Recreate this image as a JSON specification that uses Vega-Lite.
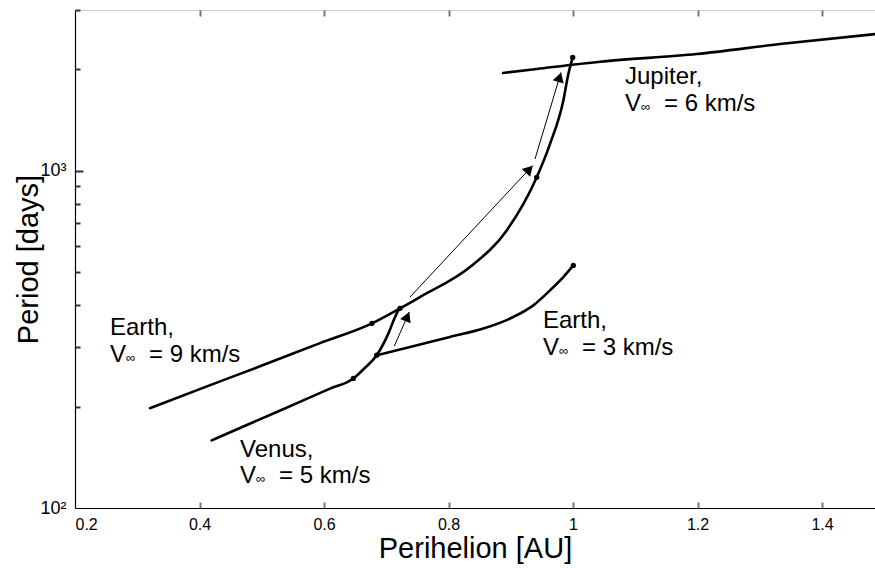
{
  "$schema": "https://vega.github.io/schema/vega-lite/v6.json",
  "width": 800,
  "height": 498,
  "autosize": {"type": "none"},
  "padding": {"left": 75, "top": 10, "right": 0, "bottom": 60},
  "background": "white",
  "config": {
    "view": {"stroke": "#cccccc", "strokeWidth": 1},
    "font": "Liberation Sans",
    "axis": {
      "labelFont": "Liberation Sans",
      "titleFont": "Liberation Sans",
      "labelFontSize": 16,
      "titleFontSize": 29,
      "titleFontWeight": "normal",
      "labelColor": "black",
      "titleColor": "black",
      "domainColor": "black",
      "domainWidth": 1.2,
      "grid": false
    }
  },
  "datasets": {
    "curves": [
      {"curve": "Earth 9", "i": 1, "perihelion": 0.3205, "period": 197.8},
      {"curve": "Earth 9", "i": 2, "perihelion": 0.4088, "period": 228.3},
      {"curve": "Earth 9", "i": 3, "perihelion": 0.4972, "period": 263.3},
      {"curve": "Earth 9", "i": 4, "perihelion": 0.5936, "period": 308.3},
      {"curve": "Earth 9", "i": 5, "perihelion": 0.6771, "period": 353.0},
      {"curve": "Earth 9", "i": 6, "perihelion": 0.7221, "period": 391.0},
      {"curve": "Earth 9", "i": 7, "perihelion": 0.7542, "period": 422.5},
      {"curve": "Earth 9", "i": 8, "perihelion": 0.8345, "period": 518.2},
      {"curve": "Earth 9", "i": 9, "perihelion": 0.8935, "period": 665.7},
      {"curve": "Earth 9", "i": 10, "perihelion": 0.9417, "period": 957},
      {"curve": "Earth 9", "i": 11, "perihelion": 0.9631, "period": 1202},
      {"curve": "Earth 9", "i": 12, "perihelion": 0.9844, "period": 1615},
      {"curve": "Earth 9", "i": 13, "perihelion": 0.9925, "period": 1937},
      {"curve": "Earth 9", "i": 14, "perihelion": 0.9995, "period": 2170},
      {"curve": "Venus 5", "i": 1, "perihelion": 0.4196, "period": 158.7},
      {"curve": "Venus 5", "i": 2, "perihelion": 0.5325, "period": 195.7},
      {"curve": "Venus 5", "i": 3, "perihelion": 0.6096, "period": 225.9},
      {"curve": "Venus 5", "i": 4, "perihelion": 0.6471, "period": 242.2},
      {"curve": "Venus 5", "i": 5, "perihelion": 0.6659, "period": 260.6},
      {"curve": "Venus 5", "i": 6, "perihelion": 0.6847, "period": 283.9},
      {"curve": "Venus 5", "i": 7, "perihelion": 0.7033, "period": 329.0},
      {"curve": "Venus 5", "i": 8, "perihelion": 0.7141, "period": 368.6},
      {"curve": "Venus 5", "i": 9, "perihelion": 0.7210, "period": 391.0},
      {"curve": "Earth 3", "i": 1, "perihelion": 0.6847, "period": 283.9},
      {"curve": "Earth 3", "i": 2, "perihelion": 0.7382, "period": 300.3},
      {"curve": "Earth 3", "i": 3, "perihelion": 0.8024, "period": 321.6},
      {"curve": "Earth 3", "i": 4, "perihelion": 0.8559, "period": 340.5},
      {"curve": "Earth 3", "i": 5, "perihelion": 0.9041, "period": 368.6},
      {"curve": "Earth 3", "i": 6, "perihelion": 0.9362, "period": 399.1},
      {"curve": "Earth 3", "i": 7, "perihelion": 0.9630, "period": 442.1},
      {"curve": "Earth 3", "i": 8, "perihelion": 0.9844, "period": 484.1},
      {"curve": "Earth 3", "i": 9, "perihelion": 1.0005, "period": 524.3},
      {"curve": "Jupiter 6", "i": 1, "perihelion": 0.8876, "period": 1951},
      {"curve": "Jupiter 6", "i": 2, "perihelion": 0.9417, "period": 2005},
      {"curve": "Jupiter 6", "i": 3, "perihelion": 1.0434, "period": 2107},
      {"curve": "Jupiter 6", "i": 4, "perihelion": 1.1987, "period": 2221},
      {"curve": "Jupiter 6", "i": 5, "perihelion": 1.3325, "period": 2377},
      {"curve": "Jupiter 6", "i": 6, "perihelion": 1.4851, "period": 2545}
    ],
    "arrows": [
      {"leg": "a", "p0": 0.713, "t0": 302.4, "p1": 0.737, "t1": 381.4, "hp": 0.7338, "ht": 369.6, "heading": 23},
      {"leg": "b", "p0": 0.7382, "t0": 422.5, "p1": 0.9353, "t1": 1037, "hp": 0.9298, "ht": 1011, "heading": 43},
      {"leg": "c", "p0": 0.939, "t0": 1085, "p1": 0.9807, "t1": 1959, "hp": 0.9785, "ht": 1896, "heading": 17}
    ],
    "dots": [
      {"perihelion": 0.6771, "period": 353.0},
      {"perihelion": 0.7221, "period": 391.0},
      {"perihelion": 0.6471, "period": 242.2},
      {"perihelion": 0.6847, "period": 283.9},
      {"perihelion": 0.9417, "period": 957},
      {"perihelion": 0.9995, "period": 2170},
      {"perihelion": 1.0005, "period": 524.3}
    ],
    "names": [
      {"perihelion": 0.2562, "period": 325.3, "name": "Earth,"},
      {"perihelion": 0.4651, "period": 141.9, "name": "Venus,"},
      {"perihelion": 0.9518, "period": 341.2, "name": "Earth,"},
      {"perihelion": 1.0835, "period": 1814, "name": "Jupiter,"}
    ],
    "speeds": [
      {"perihelion": 0.2562, "period": 271.2, "speed": "= 9 km/s"},
      {"perihelion": 0.4651, "period": 118.6, "speed": "= 5 km/s"},
      {"perihelion": 0.9518, "period": 283.9, "speed": "= 3 km/s"},
      {"perihelion": 1.0835, "period": 1509, "speed": "= 6 km/s"}
    ]
  },
  "resolve": {"axis": {"x": "independent", "y": "independent"}},
  "layer": [
    {
      "data": {"name": "curves"},
      "mark": {"type": "line", "color": "black", "strokeWidth": 2.6, "clip": true, "strokeCap": "round", "interpolate": "monotone"},
      "encoding": {
        "x": {
          "field": "perihelion", "type": "quantitative",
          "scale": {"domain": [0.2, 1.4851], "nice": false, "zero": false},
          "axis": {
            "orient": "bottom",
            "values": [0.2, 0.4, 0.6, 0.8, 1.0, 1.2, 1.4],
            "labelExpr": "format(datum.value, '~g')",
            "ticks": false,
            "labelPadding": 8,
            "title": "Perihelion [AU]",
            "titlePadding": 2
          }
        },
        "y": {
          "field": "period", "type": "quantitative",
          "scale": {"type": "log", "domain": [100, 3000], "nice": false},
          "axis": {
            "orient": "left",
            "values": [100, 1000],
            "labelExpr": "datum.value == 100 ? '10²' : '10³'",
            "labelFontSize": 18,
            "ticks": false,
            "labelPadding": 9,
            "title": "Period [days]",
            "titlePadding": -4
          }
        },
        "detail": {"field": "curve"},
        "order": {"field": "i"}
      }
    },
    {
      "data": {"name": "arrows"},
      "mark": {"type": "rule", "color": "black", "strokeWidth": 1},
      "encoding": {
        "x": {
          "field": "p0", "type": "quantitative",
          "axis": {
            "orient": "top",
            "values": [0.4, 0.6, 0.8, 1.0, 1.2, 1.4],
            "labels": false,
            "ticks": true,
            "title": null,
            "domain": false,
            "offset": -6,
            "tickSize": 6,
            "tickWidth": 2,
            "tickColor": "#777"
          }
        },
        "y": {"field": "t0", "type": "quantitative", "axis": null},
        "x2": {"field": "p1"},
        "y2": {"field": "t1"}
      }
    },
    {
      "data": {"name": "arrows"},
      "mark": {"type": "point", "shape": "triangle-up", "filled": true, "color": "black", "size": 130, "opacity": 1},
      "encoding": {
        "x": {
          "field": "hp", "type": "quantitative",
          "axis": {
            "orient": "bottom",
            "values": [0.4, 0.6, 0.8, 1.0, 1.2, 1.4],
            "labels": false,
            "ticks": true,
            "title": null,
            "domain": false,
            "offset": -6,
            "tickSize": 6,
            "tickWidth": 2,
            "tickColor": "#777"
          }
        },
        "y": {
          "field": "ht", "type": "quantitative",
          "axis": {
            "orient": "left",
            "values": [200, 300, 400, 500, 600, 700, 800, 900, 2000, 3000],
            "labels": false,
            "ticks": true,
            "title": null,
            "domain": false,
            "offset": -5,
            "tickSize": 5,
            "tickWidth": 2,
            "tickColor": "#333"
          }
        },
        "angle": {"field": "heading", "type": "quantitative", "scale": null}
      }
    },
    {
      "data": {"name": "dots"},
      "mark": {"type": "circle", "color": "black", "size": 28, "opacity": 1},
      "encoding": {
        "x": {"field": "perihelion", "type": "quantitative", "axis": null},
        "y": {
          "field": "period", "type": "quantitative",
          "axis": {
            "orient": "left",
            "values": [1000],
            "labels": false,
            "ticks": true,
            "title": null,
            "domain": false,
            "offset": -8,
            "tickSize": 8,
            "tickWidth": 2,
            "tickColor": "#333"
          }
        }
      }
    },
    {
      "data": {"name": "names"},
      "mark": {"type": "text", "align": "left", "baseline": "alphabetic", "font": "Liberation Sans", "fontSize": 24, "color": "black"},
      "encoding": {
        "x": {"field": "perihelion", "type": "quantitative", "axis": null},
        "y": {"field": "period", "type": "quantitative", "axis": null},
        "text": {"field": "name"}
      }
    },
    {
      "data": {"name": "speeds"},
      "mark": {"type": "text", "align": "left", "baseline": "alphabetic", "font": "Liberation Sans", "fontSize": 24, "color": "black", "text": "V"},
      "encoding": {
        "x": {"field": "perihelion", "type": "quantitative", "axis": null},
        "y": {"field": "period", "type": "quantitative", "axis": null}
      }
    },
    {
      "data": {"name": "speeds"},
      "mark": {"type": "text", "align": "left", "baseline": "alphabetic", "font": "Liberation Sans", "fontSize": 13, "color": "black", "dx": 16, "text": "∞"},
      "encoding": {
        "x": {"field": "perihelion", "type": "quantitative", "axis": null},
        "y": {"field": "period", "type": "quantitative", "axis": null}
      }
    },
    {
      "data": {"name": "speeds"},
      "mark": {"type": "text", "align": "left", "baseline": "alphabetic", "font": "Liberation Sans", "fontSize": 24, "color": "black", "dx": 39},
      "encoding": {
        "x": {"field": "perihelion", "type": "quantitative", "axis": null},
        "y": {"field": "period", "type": "quantitative", "axis": null},
        "text": {"field": "speed"}
      }
    }
  ]
}
